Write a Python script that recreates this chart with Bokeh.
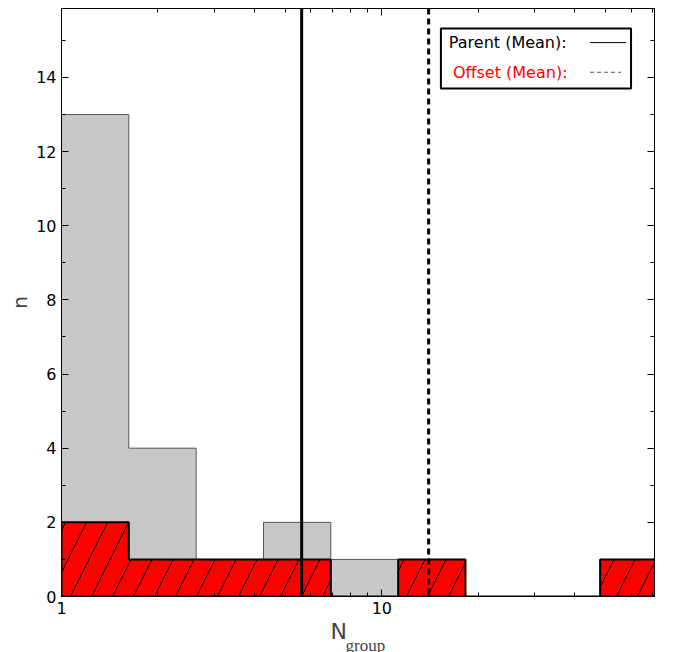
import numpy as np
from bokeh.plotting import figure
from bokeh.models import (LogAxis, LinearAxis, FixedTicker, Span, BoxAnnotation, Label, Range1d, Title)
from bokeh.embed import file_html
from bokeh.resources import INLINE

# ---- data ----
log_bin_width = 0.2102
n_bins = 9
bin_edges = [10 ** (k * log_bin_width) for k in range(n_bins + 1)]
parent_counts = [13, 4, 1, 2, 1, 1, 0, 0, 1]
offset_counts = [2, 1, 1, 1, 0, 1, 0, 0, 1]
parent_mean = 5.62
offset_mean = 14.0
x_major = [1, 10]
x_minor = [2, 3, 4, 5, 6, 7, 8, 9, 20, 30, 40, 50, 60, 70]
y_major = [0, 2, 4, 6, 8, 10, 12, 14]
y_minor = [1, 3, 5, 7, 9, 11, 13, 15]

XMAX = 71.0
YMAX = 15.86


def step_polygon(edges, counts):
    xs, ys = [edges[0]], [0]
    for i, c in enumerate(counts):
        xs += [edges[i], edges[i + 1]]
        ys += [c, c]
    xs.append(edges[-1])
    ys.append(0)
    return xs, ys


p = figure(x_axis_type="log", x_range=Range1d(1, XMAX), y_range=Range1d(0, YMAX),
           frame_width=593, frame_height=588, output_backend="svg", toolbar_location=None,
           min_border_left=61, min_border_top=8, min_border_right=4, min_border_bottom=56)
p.background_fill_color = "white"
p.border_fill_color = "white"
p.grid.visible = False
p.outline_line_color = "black"
p.outline_line_width = 1

px, py = step_polygon(bin_edges, parent_counts)
p.patch(px, py, fill_color="#c8c8c8", line_color="#555555", line_width=1)
ox, oy = step_polygon(bin_edges, offset_counts)
p.patch(ox, oy, fill_color="#ff0000", line_color="black", line_width=2,
        hatch_pattern="/", hatch_color="black", hatch_scale=42, hatch_weight=1)

p.add_layout(Span(location=parent_mean, dimension="height", line_color="black", line_width=3))
p.add_layout(Span(location=offset_mean, dimension="height", line_color="black", line_width=3,
                  line_dash="6 4"))

# axes styling
def style_axis(ax, show_labels=True):
    ax.axis_line_color = "black"
    ax.axis_line_width = 1
    ax.major_tick_in = 7
    ax.major_tick_out = 0
    ax.minor_tick_in = 4
    ax.minor_tick_out = 0
    ax.major_tick_line_color = "black"
    ax.minor_tick_line_color = "black"
    ax.major_label_text_font = "DejaVu Sans"
    ax.major_label_text_font_size = "16px" if show_labels else "0px"
    ax.major_label_text_color = "black"
    ax.major_label_standoff = 5 if show_labels else 0

xa = p.xaxis[0]
xa.ticker = FixedTicker(ticks=x_major, minor_ticks=x_minor)
xa.major_label_overrides = {1: "1", 10: "10"}
style_axis(xa)
ya = p.yaxis[0]
ya.ticker = FixedTicker(ticks=y_major, minor_ticks=y_minor)
style_axis(ya)
ya.axis_label = "n"
ya.axis_label_text_font = "DejaVu Sans"
ya.axis_label_text_font_size = "20px"
ya.axis_label_text_font_style = "normal"
ya.axis_label_standoff = 1

top = LogAxis(ticker=FixedTicker(ticks=x_major, minor_ticks=x_minor))
style_axis(top, False)
top.major_label_overrides = {1: "", 10: ""}
p.add_layout(top, "above")
right = LinearAxis(ticker=FixedTicker(ticks=y_major, minor_ticks=y_minor))
style_axis(right, False)
right.major_label_overrides = {t: "" for t in y_major}
p.add_layout(right, "right")

# x-axis label N_group as two titles below
p.add_layout(Title(text="N", align="left", offset=269, text_font="DejaVu Sans",
                   text_font_size="22px", text_font_style="normal", standoff=0), "below")
p.add_layout(Title(text="group", align="left", offset=284, text_font="Liberation Serif",
                   text_font_size="17px", text_font_style="normal", standoff=-23), "below")

# legend box
p.add_layout(BoxAnnotation(left=15.29, right=59.98, bottom=13.70, top=15.32,
                           fill_color="white", fill_alpha=1, line_color="black", line_width=2,
                           line_alpha=1, level="underlay"))
p.add_layout(Label(x=16.19, y=14.94, text="Parent (Mean):", text_font="DejaVu Sans",
                   text_font_size="16px", text_baseline="middle", text_color="black"))
p.add_layout(Label(x=16.67, y=14.14, text="Offset (Mean):", text_font="DejaVu Sans",
                   text_font_size="16px", text_baseline="middle", text_color="red"))
p.line([44.67, 57.88], [14.94, 14.94], line_color="black", line_width=1)
p.line([44.67, 55.8], [14.14, 14.14], line_color="#555555", line_width=1, line_dash="4 3")

open("out.html", "w").write(file_html(p, INLINE))
